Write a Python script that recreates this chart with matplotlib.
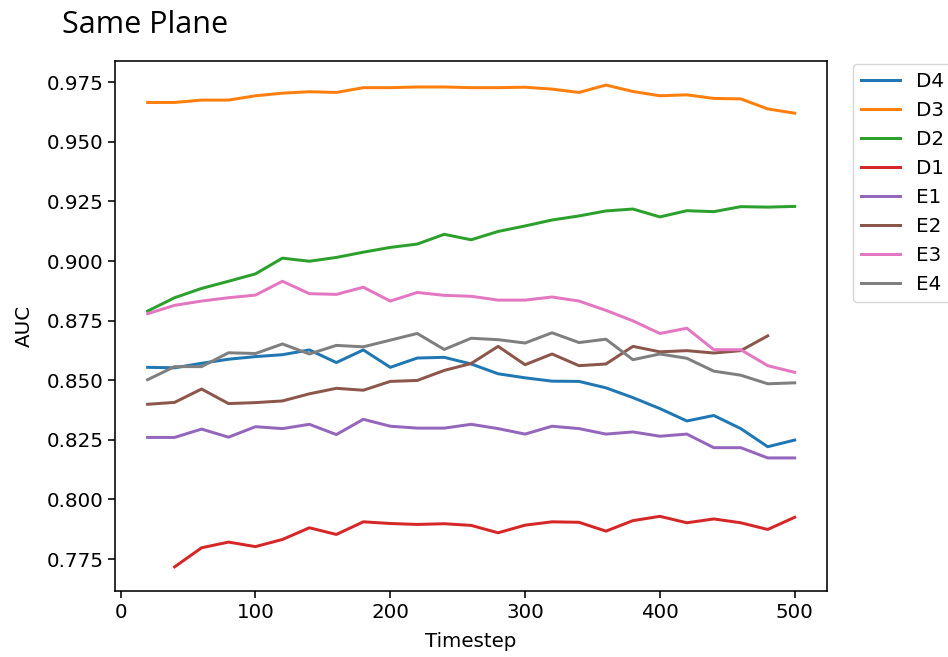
import matplotlib
matplotlib.use("Agg")
import matplotlib.pyplot as plt

timesteps = [20, 40, 60, 80, 100, 120, 140, 160, 180, 200, 220, 240, 260,
             280, 300, 320, 340, 360, 380, 400, 420, 440, 460, 480, 500]

D4 = [0.8554, 0.8552, 0.8571, 0.8588, 0.8599, 0.8607, 0.8627, 0.8574, 0.8627, 0.8554,
      0.8593, 0.8596, 0.8568, 0.8527, 0.8510, 0.8496, 0.8495, 0.8468, 0.8427, 0.8381,
      0.8329, 0.8352, 0.8297, 0.8221, 0.8249]
D3 = [0.9665, 0.9665, 0.9675, 0.9675, 0.9693, 0.9704, 0.9710, 0.9707, 0.9727, 0.9727,
      0.9730, 0.9730, 0.9727, 0.9727, 0.9729, 0.9721, 0.9707, 0.9738, 0.9711, 0.9693,
      0.9697, 0.9682, 0.9680, 0.9638, 0.9620]
D2 = [0.8790, 0.8846, 0.8885, 0.8915, 0.8946, 0.9012, 0.8999, 0.9015, 0.9037, 0.9057,
      0.9071, 0.9112, 0.9089, 0.9124, 0.9147, 0.9172, 0.9189, 0.9210, 0.9218, 0.9185,
      0.9211, 0.9207, 0.9228, 0.9226, 0.9229]
D1_steps = timesteps[1:]
D1 = [0.7717, 0.7797, 0.7821, 0.7802, 0.7832, 0.7881, 0.7853, 0.7906, 0.7899,
      0.7895, 0.7898, 0.7891, 0.7860, 0.7892, 0.7906, 0.7904, 0.7867, 0.7911, 0.7929,
      0.7902, 0.7918, 0.7902, 0.7874, 0.7925]
E1 = [0.8260, 0.8260, 0.8295, 0.8261, 0.8305, 0.8297, 0.8315, 0.8272, 0.8336, 0.8307,
      0.8299, 0.8299, 0.8315, 0.8297, 0.8274, 0.8307, 0.8297, 0.8274, 0.8283, 0.8265,
      0.8274, 0.8217, 0.8217, 0.8174, 0.8174]
E2_steps = timesteps[:-1]
E2 = [0.8399, 0.8407, 0.8463, 0.8402, 0.8406, 0.8413, 0.8443, 0.8466, 0.8458, 0.8495,
      0.8499, 0.8541, 0.8570, 0.8642, 0.8565, 0.8610, 0.8561, 0.8568, 0.8642, 0.8619,
      0.8624, 0.8614, 0.8624, 0.8686]
E3 = [0.8779, 0.8814, 0.8832, 0.8846, 0.8857, 0.8915, 0.8863, 0.8860, 0.8890, 0.8832,
      0.8868, 0.8856, 0.8852, 0.8836, 0.8836, 0.8849, 0.8832, 0.8793, 0.8749, 0.8696,
      0.8718, 0.8628, 0.8628, 0.8561, 0.8533]
E4 = [0.8502, 0.8557, 0.8557, 0.8615, 0.8612, 0.8652, 0.8610, 0.8646, 0.8640, 0.8668,
      0.8696, 0.8629, 0.8676, 0.8670, 0.8656, 0.8699, 0.8658, 0.8672, 0.8586, 0.8610,
      0.8592, 0.8538, 0.8521, 0.8485, 0.8489]

S = 1.435
plt.rcParams['font.size'] = 10 * S

fig = plt.figure(figsize=(9.48, 6.57), dpi=100)
ax = fig.add_axes([0.1216, 0.1005, 0.7508, 0.8067])

lw = 1.5 * S
ax.plot(timesteps, D4, label='D4', lw=lw)
ax.plot(timesteps, D3, label='D3', lw=lw)
ax.plot(timesteps, D2, label='D2', lw=lw)
ax.plot(D1_steps, D1, label='D1', lw=lw)
ax.plot(timesteps, E1, label='E1', lw=lw)
ax.plot(E2_steps, E2, label='E2', lw=lw)
ax.plot(timesteps, E3, label='E3', lw=lw)
ax.plot(timesteps, E4, label='E4', lw=lw)

ax.set_yticks([0.775, 0.800, 0.825, 0.850, 0.875, 0.900, 0.925, 0.950, 0.975])
ax.set_xticks([0, 100, 200, 300, 400, 500])
ax.tick_params(width=0.8 * S, length=3.5 * S)
for sp in ax.spines.values():
    sp.set_linewidth(0.8 * S)

ax.set_xlabel('Timestep', labelpad=7.5)
ax.set_ylabel('AUC', labelpad=9)

ax.legend(loc='upper left', bbox_to_anchor=(1.036, 0.994), borderaxespad=0)

fig.text(62 / 948, 1 - 33 / 657, 'Same Plane', family='Open Sans',
         fontsize=22, va='baseline', ha='left')

fig.savefig('out.png', dpi=100)
